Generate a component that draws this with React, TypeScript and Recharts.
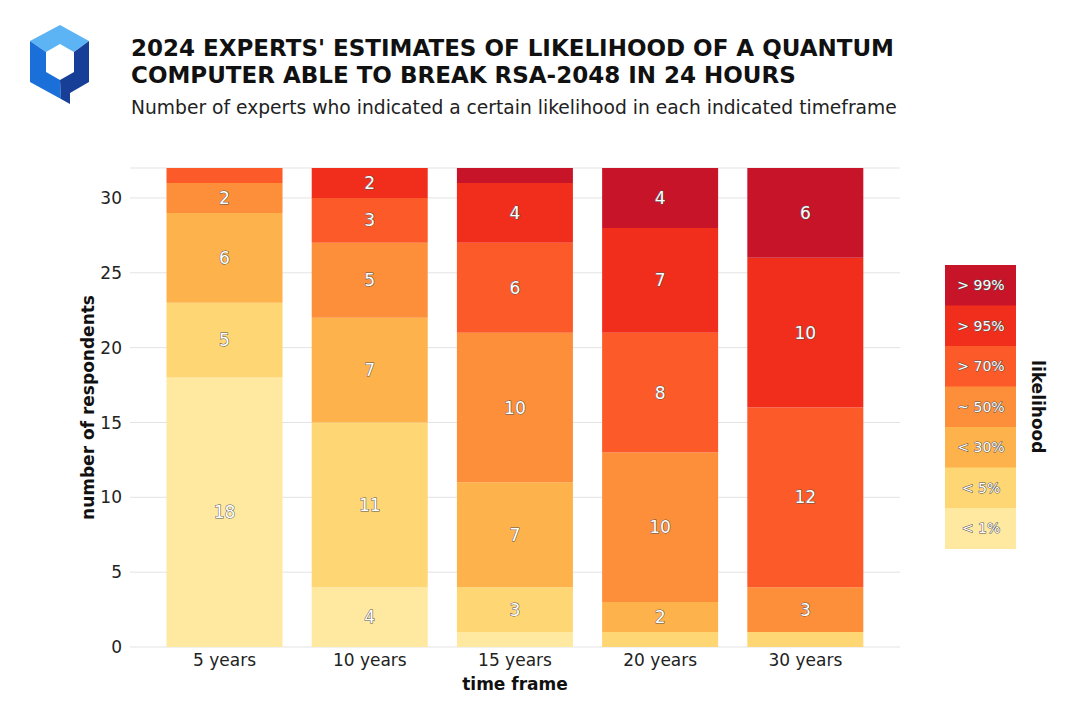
import React from 'react';
import {
  BarChart,
  Bar,
  XAxis,
  YAxis,
  CartesianGrid,
  LabelList,
} from 'recharts';

const FONT = '"DejaVu Sans", Verdana, sans-serif';

// time frames on the x axis
const timeFrames = ['5 years', '10 years', '15 years', '20 years', '30 years'];

// respondents per likelihood bucket, one value per time frame
const lt1 = [18, 4, 1, 0, 0];
const lt5 = [5, 11, 3, 1, 1];
const lt30 = [6, 7, 7, 2, 0];
const about50 = [2, 5, 10, 10, 3];
const gt70 = [1, 3, 6, 8, 12];
const gt95 = [0, 2, 4, 7, 10];
const gt99 = [0, 0, 1, 4, 6];

const yTicks = [0, 5, 10, 15, 20, 25, 30];

// stacking order, bottom to top
const buckets = [
  { key: 'lt1', label: '< 1%', color: '#ffe9a0', values: lt1 },
  { key: 'lt5', label: '< 5%', color: '#fed673', values: lt5 },
  { key: 'lt30', label: '< 30%', color: '#feb24c', values: lt30 },
  { key: 'about50', label: '~ 50%', color: '#fd8e3a', values: about50 },
  { key: 'gt70', label: '> 70%', color: '#fd5a29', values: gt70 },
  { key: 'gt95', label: '> 95%', color: '#f12d1c', values: gt95 },
  { key: 'gt99', label: '> 99%', color: '#c81428', values: gt99 },
];

const chartData = timeFrames.map((name, i) => {
  const row: Record<string, string | number> = { name };
  buckets.forEach((b) => {
    row[b.key] = b.values[i];
  });
  return row;
});

const outlined = {
  fill: '#fff',
  stroke: '#555',
  strokeWidth: 1,
  paintOrder: 'stroke' as const,
  fontFamily: FONT,
};

// segment counts, skipped for slivers of one
const SegmentLabel = (props: any) => {
  const { x, y, width, height, value } = props;
  if (!value || value < 2) return null;
  return (
    <text
      x={x + width / 2}
      y={y + height / 2}
      textAnchor="middle"
      dominantBaseline="central"
      fontSize={17}
      style={outlined}
    >
      {value}
    </text>
  );
};

// discrete colour bar on the right
const ColorBar = () => {
  const boxH = 40.5;
  const top = [...buckets].reverse();
  return (
    <svg
      width={110}
      height={top.length * boxH + 4}
      style={{ position: 'absolute', left: 945, top: 265 }}
    >
      {top.map((b, i) => (
        <g key={b.key}>
          <rect x={0} y={i * boxH} width={71} height={boxH + 0.5} fill={b.color} />
          <text
            x={36}
            y={i * boxH + boxH / 2}
            textAnchor="middle"
            dominantBaseline="central"
            fontSize={14}
            style={outlined}
          >
            {b.label}
          </text>
        </g>
      ))}
      <text
        transform={`translate(93, ${(top.length * boxH) / 2}) rotate(90)`}
        textAnchor="middle"
        dominantBaseline="central"
        fontSize={17}
        fontWeight="bold"
        fontFamily={FONT}
        fill="#111"
      >
        likelihood
      </text>
    </svg>
  );
};

const Logo = () => (
  <svg width={100} height={110} style={{ position: 'absolute', left: 0, top: 0 }}>
    {/* top face */}
    <polygon points="30,41 60,25 89,41 74,52 60,44 46,52" fill="#5db4f4" />
    {/* left face */}
    <polygon points="30,41 46,52 46,72 60,80 61,99 30,82" fill="#1a6fd8" />
    {/* right face with tail */}
    <polygon points="89,41 89,82 70,93 70,104 61,99 60,80 74,72 74,52" fill="#173f97" />
  </svg>
);

export default function App() {
  return (
    <div
      style={{
        position: 'absolute',
        left: 0,
        top: 0,
        width: 1080,
        height: 710,
        background: '#fff',
        fontFamily: FONT,
        overflow: 'hidden',
      }}
    >
      <Logo />
      <div
        style={{
          position: 'absolute',
          left: 131,
          top: 35,
          fontSize: 23,
          fontWeight: 'bold',
          lineHeight: '27px',
          color: '#111',
          whiteSpace: 'nowrap',
        }}
      >
        2024 EXPERTS' ESTIMATES OF LIKELIHOOD OF A QUANTUM
        <br />
        COMPUTER ABLE TO BREAK RSA-2048 IN 24 HOURS
      </div>
      <div
        style={{
          position: 'absolute',
          left: 131,
          top: 97,
          fontSize: 18.7,
          color: '#222',
          whiteSpace: 'nowrap',
        }}
      >
        Number of experts who indicated a certain likelihood in each indicated timeframe
      </div>

      <div style={{ position: 'absolute', left: 0, top: 0 }}>
        <BarChart
          width={1080}
          height={710}
          data={chartData}
          margin={{ top: 168, right: 180, bottom: 23, left: 70 }}
          barCategoryGap="10%"
        >
          <CartesianGrid vertical={false} stroke="#e3e3e3" />
          <XAxis
            dataKey="name"
            axisLine={false}
            tickLine={false}
            height={40}
            padding={{ left: 22, right: 22 }}
            tick={{ fontSize: 17, fill: '#222', fontFamily: FONT }}
            tickMargin={1}
            label={{
              value: 'time frame',
              position: 'insideBottom',
              offset: -3,
              style: { fontSize: 17, fontWeight: 'bold', fill: '#111', fontFamily: FONT },
            }}
          />
          <YAxis
            width={60}
            domain={[0, 32]}
            ticks={yTicks}
            axisLine={false}
            tickLine={false}
            tickMargin={2}
            tick={{ fontSize: 17, fill: '#222', fontFamily: FONT }}
            label={{
              value: 'number of respondents',
              angle: -90,
              position: 'insideLeft',
              offset: 18,
              style: {
                fontSize: 17,
                fontWeight: 'bold',
                fill: '#111',
                fontFamily: FONT,
                textAnchor: 'middle',
              },
            }}
          />
          {buckets.map((b) => (
            <Bar
              key={b.key}
              dataKey={b.key}
              stackId="likelihood"
              fill={b.color}
              isAnimationActive={false}
            >
              <LabelList dataKey={b.key} content={SegmentLabel} />
            </Bar>
          ))}
        </BarChart>
      </div>
      <ColorBar />
    </div>
  );
}
